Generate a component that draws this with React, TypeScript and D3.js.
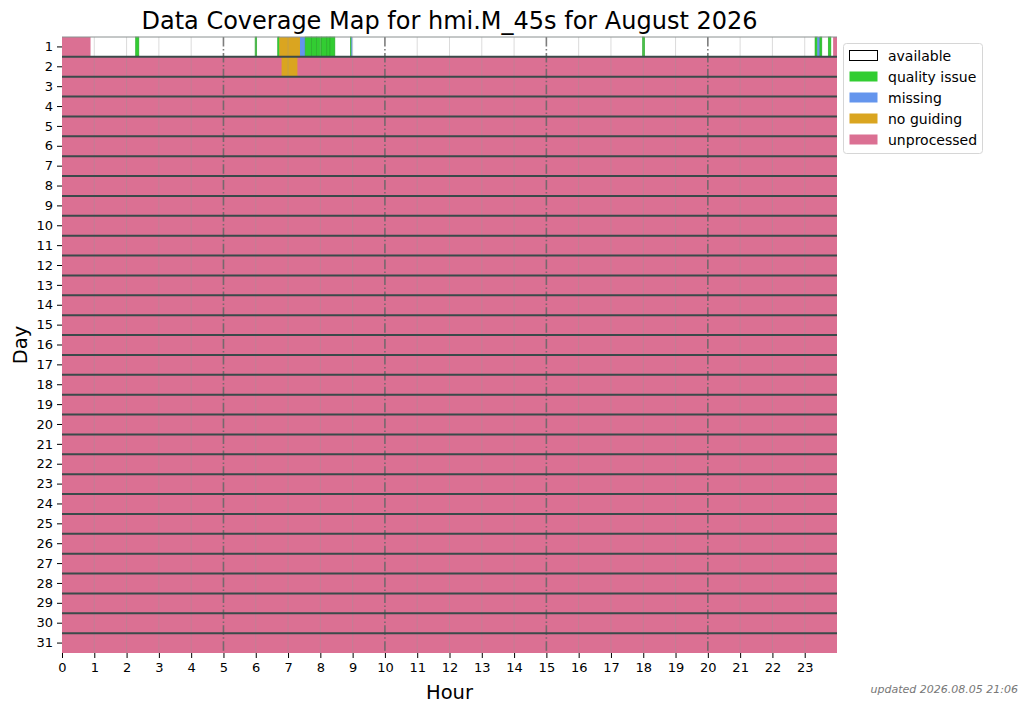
import * as d3 from 'd3'
import { useEffect, useRef } from 'react'

type Status = 'available' | 'quality' | 'missing' | 'noguiding' | 'unprocessed'
type Segment = { start: number, end: number, status: Status }

const days = d3.range(1, 32)
const hourTicks = d3.range(0, 24)
const majorHours = [5, 10, 15, 20]

const legendItems: { key: Status, label: string }[] = [
  { key: 'available', label: 'available' },
  { key: 'quality', label: 'quality issue' },
  { key: 'missing', label: 'missing' },
  { key: 'noguiding', label: 'no guiding' },
  { key: 'unprocessed', label: 'unprocessed' },
]

const colors: Record<Status, string> = {
  available: '#ffffff',
  quality: '#32cd32',
  missing: '#6495ed',
  noguiding: '#daa520',
  unprocessed: '#db7093',
}

// day 1 is the only partly processed day
const day1Segments: Segment[] = [
  { start: 0, end: 0.89, status: 'unprocessed' },
  { start: 0.89, end: 23.88, status: 'available' },
  { start: 2.28, end: 2.38, status: 'quality' },
  { start: 5.98, end: 6.03, status: 'quality' },
  { start: 6.68, end: 6.73, status: 'quality' },
  { start: 6.73, end: 7.37, status: 'noguiding' },
  { start: 7.37, end: 7.53, status: 'missing' },
  { start: 7.53, end: 7.73, status: 'quality' },
  { start: 7.73, end: 7.88, status: 'quality' },
  { start: 7.88, end: 8.04, status: 'quality' },
  { start: 8.04, end: 8.2, status: 'quality' },
  { start: 8.2, end: 8.3, status: 'quality' },
  { start: 8.3, end: 8.45, status: 'quality' },
  { start: 8.93, end: 8.96, status: 'quality' },
  { start: 8.96, end: 8.99, status: 'missing' },
  { start: 17.98, end: 18.04, status: 'quality' },
  { start: 23.32, end: 23.39, status: 'quality' },
  { start: 23.39, end: 23.47, status: 'missing' },
  { start: 23.47, end: 23.53, status: 'quality' },
  { start: 23.73, end: 23.81, status: 'quality' },
  { start: 23.88, end: 24, status: 'unprocessed' },
]

const day2Segments: Segment[] = [
  { start: 0, end: 24, status: 'unprocessed' },
  { start: 6.8, end: 7.29, status: 'noguiding' },
]

const restSegments: Segment[] = [
  { start: 0, end: 24, status: 'unprocessed' },
]

const segmentsFor = (day: number) =>
  day === 1 ? day1Segments : day === 2 ? day2Segments : restSegments

const W = 1028
const H = 711
const margin = { top: 37, right: 191, bottom: 58, left: 62 }
const FONT = 'DejaVu Sans, sans-serif'

export default function App() {
  const svgRef = useRef<SVGSVGElement | null>(null)

  useEffect(() => {
    if (!svgRef.current) return
    const svg = d3.select(svgRef.current)
    svg.selectAll('*').remove()

    const x = d3.scaleLinear().domain([0, 24]).range([margin.left, W - margin.right])
    const y = d3.scaleBand<number>().domain(days).range([margin.top, H - margin.bottom])

    // cells
    const rows = svg.append('g')
      .selectAll('g')
      .data(days)
      .join('g')

    rows.selectAll('rect')
      .data((d) => segmentsFor(d).map((s) => ({ ...s, day: d })))
      .join('rect')
      .attr('x', (d) => x(d.start))
      .attr('y', (d) => y(d.day) || 0)
      .attr('width', (d) => x(d.end) - x(d.start))
      .attr('height', y.bandwidth())
      .attr('fill', (d) => colors[d.status])
      .attr('stroke', (d) => (d.status === 'quality' ? '#29a829' : 'none'))
      .attr('stroke-width', 0.6)

    // hour grid
    svg.append('g')
      .selectAll('line')
      .data(hourTicks.filter((h) => h > 0 && !majorHours.includes(h)))
      .join('line')
      .attr('x1', (d) => x(d))
      .attr('x2', (d) => x(d))
      .attr('y1', margin.top)
      .attr('y2', H - margin.bottom)
      .attr('stroke', '#999')
      .attr('stroke-opacity', 0.35)
      .attr('stroke-width', 1)

    svg.append('g')
      .selectAll('line')
      .data(majorHours)
      .join('line')
      .attr('x1', (d) => x(d))
      .attr('x2', (d) => x(d))
      .attr('y1', margin.top)
      .attr('y2', H - margin.bottom)
      .attr('stroke', '#666')
      .attr('stroke-opacity', 0.85)
      .attr('stroke-width', 1.6)
      .attr('stroke-dasharray', '9.6,2.4,1.5,2.4')

    // day separators
    svg.append('g')
      .selectAll('line')
      .data(days.slice(1))
      .join('line')
      .attr('x1', x(0))
      .attr('x2', x(24))
      .attr('y1', (d) => y(d) || 0)
      .attr('y2', (d) => y(d) || 0)
      .attr('stroke', '#3b4a4a')
      .attr('stroke-width', 2)

    // top frame
    svg.append('line')
      .attr('x1', x(0)).attr('x2', x(24))
      .attr('y1', margin.top).attr('y2', margin.top)
      .attr('stroke', '#8a9090').attr('stroke-width', 1)

    // axes
    const xAxis = svg.append('g')
      .attr('transform', `translate(0,${H - margin.bottom})`)
      .call(d3.axisBottom(x).tickValues(hourTicks).tickFormat(d3.format('d')).tickSize(5).tickPadding(5))
    xAxis.select('.domain').remove()
    xAxis.selectAll('text').style('font-size', '13px').style('font-family', FONT).attr('fill', '#000')

    const yAxis = svg.append('g')
      .attr('transform', `translate(${margin.left},0)`)
      .call(d3.axisLeft(y).tickSize(5).tickPadding(4))
    yAxis.select('.domain').remove()
    yAxis.selectAll('text').style('font-size', '13px').style('font-family', FONT).attr('fill', '#000')

    // titles
    svg.append('text')
      .attr('x', (x(0) + x(24)) / 2)
      .attr('y', 29)
      .attr('text-anchor', 'middle')
      .style('font-family', FONT)
      .style('font-size', '24px')
      .text('Data Coverage Map for hmi.M_45s for August 2026')

    svg.append('text')
      .attr('x', (x(0) + x(24)) / 2)
      .attr('y', 699)
      .attr('text-anchor', 'middle')
      .style('font-family', FONT)
      .style('font-size', '19.5px')
      .text('Hour')

    svg.append('text')
      .attr('transform', `translate(27,${(margin.top + H - margin.bottom) / 2}) rotate(-90)`)
      .attr('text-anchor', 'middle')
      .style('font-family', FONT)
      .style('font-size', '19.5px')
      .text('Day')

    svg.append('text')
      .attr('x', 1018)
      .attr('y', 693)
      .attr('text-anchor', 'end')
      .style('font-family', FONT)
      .style('font-size', '11px')
      .style('font-style', 'italic')
      .attr('fill', '#777')
      .text('updated 2026.08.05 21:06')

    // legend
    const lg = svg.append('g').attr('transform', 'translate(843.5,43.5)')
    lg.append('rect')
      .attr('width', 139)
      .attr('height', 110)
      .attr('rx', 3)
      .attr('fill', '#fff')
      .attr('fill-opacity', 0.8)
      .attr('stroke', '#d6d6d6')

    const items = lg.selectAll('g.item')
      .data(legendItems)
      .join('g')
      .attr('class', 'item')
      .attr('transform', (_, i) => `translate(6,${7 + i * 21})`)

    items.append('rect')
      .attr('width', 28)
      .attr('height', 10)
      .attr('fill', (d) => colors[d.key])
      .attr('stroke', (d) => (d.key === 'available' ? '#000' : 'none'))
      .attr('stroke-width', 1)

    items.append('text')
      .attr('x', 38.5)
      .attr('y', 10.5)
      .style('font-family', FONT)
      .style('font-size', '14px')
      .text((d) => d.label)
  }, [])

  return (
    <svg
      ref={svgRef}
      width={W}
      height={H}
      style={{ position: 'absolute', left: 0, top: 0, background: '#fff' }}
    />
  )
}
